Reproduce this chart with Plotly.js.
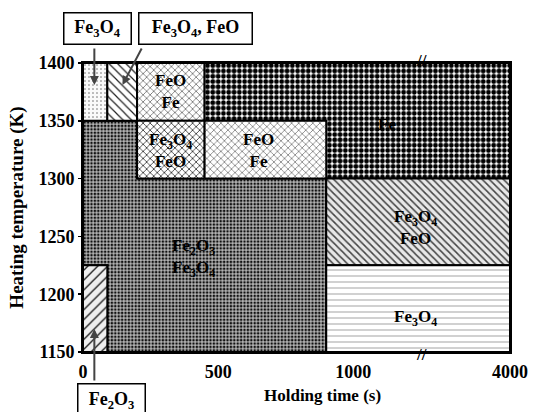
<!DOCTYPE html>
<html>
<head>
<meta charset="utf-8">
<script src="https://cdn.plot.ly/plotly-3.0.1.min.js"></script>
<style>html,body{margin:0;padding:0;background:#fff;}#chart{width:533px;height:412px;}</style>
</head>
<body>
<div id="chart"></div>
<script>
// ---- data: phase regions (holding time in s, heating temperature in K) ----
const regionNames = ["Fe3O4", "Fe3O4+FeO (a)", "FeO+Fe (a)", "Fe", "Fe3O4+FeO (b)", "FeO+Fe (b)",
                     "Fe2O3+Fe3O4", "Fe2O3", "Fe3O4+FeO (c)", "Fe3O4 (b)"];
const fe3o4TopT = [0, 90, 90, 0];            const fe3o4TopK = [1350, 1350, 1400, 1400];
const mixTopT   = [90, 200, 200, 90];        const mixTopK   = [1350, 1350, 1400, 1400];
const feoFeTopT = [200, 450, 450, 200];      const feoFeTopK = [1350, 1350, 1400, 1400];
const feT       = [450, 4000, 4000, 900, 900, 450]; const feK = [1400, 1400, 1300, 1300, 1350, 1350];
const mixMidT   = [200, 450, 450, 200];      const mixMidK   = [1300, 1300, 1350, 1350];
const feoFeMidT = [450, 900, 900, 450];      const feoFeMidK = [1300, 1300, 1350, 1350];
const hemMagT   = [0, 200, 200, 900, 900, 90, 90, 0];
const hemMagK   = [1350, 1350, 1300, 1300, 1150, 1150, 1225, 1225];
const hemT      = [0, 90, 90, 0];            const hemK      = [1150, 1150, 1225, 1225];
const mixLowT   = [900, 4000, 4000, 900];    const mixLowK   = [1225, 1225, 1300, 1300];
const magLowT   = [900, 4000, 4000, 900];    const magLowK   = [1150, 1150, 1225, 1225];

const xTickValues = [0, 500, 1000, 4000];
const xTickLabels = ["0", "500", "1000", "4000"];
const yTickValues = [1150, 1200, 1250, 1300, 1350, 1400];
const axisBreakTime = 2300;

// region labels
const labelTexts = ["FeO<br>Fe", "Fe", "Fe<sub>3</sub>O<sub>4</sub><br>FeO", "FeO<br>Fe",
                    "Fe<sub>2</sub>O<sub>3</sub><br>Fe<sub>3</sub>O<sub>4</sub>",
                    "Fe<sub>3</sub>O<sub>4</sub><br>FeO", "Fe<sub>3</sub>O<sub>4</sub>"];
const labelT = [325, 1650, 325, 650, 410, 2200, 2200];
const labelK = [1375, 1347, 1324, 1324, 1231, 1258, 1179];

// ---- broken time axis: linear to 1000 s, compressed 1000-4000 s ----
function xmap(t) { return t <= 1000 ? t : 1000 + (t - 1000) * (580 / 3000); }

const serif = "Liberation Serif, Times New Roman, serif";
const boldFont = (s) => ({family: serif, size: s, color: "#000", weight: "bold"});

function region(T, K, pattern, bg) {
  const x = T.map(xmap); x.push(x[0]);
  const y = K.slice(); y.push(y[0]);
  return {
    type: "scatter", mode: "lines", x: x, y: y, fill: "toself",
    fillcolor: bg, fillpattern: Object.assign({fillmode: "replace", bgcolor: bg}, pattern),
    line: {color: "#000", width: 2}, hoverinfo: "skip", showlegend: false
  };
}

const traces = [
  region(hemMagT, hemMagK, {shape: ".", fgcolor: "#111", size: 3.4, solidity: 0.45}, "#b4b4b4"),
  region(fe3o4TopT, fe3o4TopK, {shape: ".", fgcolor: "#666", size: 4, solidity: 0.12}, "#fafafa"),
  region(mixTopT, mixTopK, {shape: "\\", fgcolor: "#222", size: 6, solidity: 0.2}, "#fff"),
  region(feoFeTopT, feoFeTopK, {shape: "x", fgcolor: "#555", size: 5, solidity: 0.25}, "#fff"),
  region(feT, feK, {shape: ".", fgcolor: "#000", size: 5.3, solidity: 0.62}, "#fff"),
  region(mixMidT, mixMidK, {shape: "x", fgcolor: "#333", size: 5, solidity: 0.3}, "#fff"),
  region(feoFeMidT, feoFeMidK, {shape: "x", fgcolor: "#666", size: 5, solidity: 0.25}, "#fff"),
  region(hemT, hemK, {shape: "/", fgcolor: "#222", size: 7, solidity: 0.2}, "#eee"),
  region(mixLowT, mixLowK, {shape: "\\", fgcolor: "#444", size: 5, solidity: 0.3}, "#e8e8e8"),
  region(magLowT, magLowK, {shape: "-", fgcolor: "#999", size: 6, solidity: 0.15}, "#fff")
];

const annotations = labelTexts.map((t, i) => ({
  x: xmap(labelT[i]), y: labelK[i], xref: "x", yref: "y", text: t, showarrow: false,
  font: boldFont(17)
}));

const boxFont = boldFont(18);
// callout boxes (paper coordinates)
annotations.push(
  {xref: "paper", yref: "paper", x: 0.033, y: 1.118, xanchor: "center", yanchor: "middle",
   text: "Fe<sub>3</sub>O<sub>4</sub>", showarrow: false, width: 62, height: 26,
   bordercolor: "#000", borderwidth: 1.5, borderpad: 2, bgcolor: "#fff", font: boxFont},
  {xref: "paper", yref: "paper", x: 0.263, y: 1.118, xanchor: "center", yanchor: "middle",
   text: "Fe<sub>3</sub>O<sub>4</sub>, FeO", showarrow: false, width: 108, height: 26,
   bordercolor: "#000", borderwidth: 1.5, borderpad: 2, bgcolor: "#fff", font: boxFont},
  {xref: "paper", yref: "paper", x: 0.066, y: -0.107, xanchor: "center", yanchor: "top",
   text: "Fe<sub>2</sub>O<sub>3</sub>", showarrow: false, width: 62, height: 28,
   bordercolor: "#000", borderwidth: 1.5, borderpad: 2, bgcolor: "#fff", font: boxFont},
  // arrows
  {x: xmap(42), y: 1381, xref: "x", yref: "y", text: "", showarrow: true, arrowhead: 2, arrowsize: 0.9,
   arrowwidth: 2, ax: 0, ay: -38},
  {x: xmap(146), y: 1381, xref: "x", yref: "y", text: "", showarrow: true, arrowhead: 2, arrowsize: 0.9,
   arrowwidth: 2, ax: 20, ay: -38},
  {x: xmap(42), y: 1170, xref: "x", yref: "y", text: "", showarrow: true, arrowhead: 2, arrowsize: 0.9,
   arrowwidth: 2, ax: 0, ay: 53},
  // axis break marks
  {x: xmap(axisBreakTime), y: 1400, xref: "x", yref: "y", text: "//", showarrow: false,
   font: boldFont(17), yshift: 3},
  {x: xmap(axisBreakTime), y: 1150, xref: "x", yref: "y", text: "//", showarrow: false,
   font: boldFont(17), yshift: -2},
  // x axis title
  {xref: "paper", yref: "paper", x: 0.56, y: -0.11, xanchor: "center", yanchor: "top",
   text: "Holding time (s)", showarrow: false, font: boldFont(17)}
);

const layout = {
  width: 533, height: 412,
  margin: {l: 83, r: 23, t: 63, b: 60},
  paper_bgcolor: "#fff", plot_bgcolor: "#fff",
  showlegend: false,
  xaxis: {
    range: [0, xmap(4000)], tickvals: xTickValues.map(xmap), ticktext: xTickLabels,
    showgrid: false, zeroline: false, showline: true, linecolor: "#000", linewidth: 2, mirror: true,
    ticks: "", ticklabelstandoff: 2,
    tickfont: boldFont(18)
  },
  yaxis: {
    range: [1150, 1400], tickvals: yTickValues,
    showgrid: false, zeroline: false, showline: true, linecolor: "#000", linewidth: 2, mirror: true,
    ticks: "outside", ticklen: 3, tickwidth: 1.5, tickcolor: "#000",
    tickfont: boldFont(18),
    title: {text: "Heating temperature (K)", standoff: 10, font: boldFont(19)}
  },
  annotations: annotations
};

Plotly.newPlot("chart", traces, layout, {staticPlot: true, displayModeBar: false});
</script>
</body>
</html>
